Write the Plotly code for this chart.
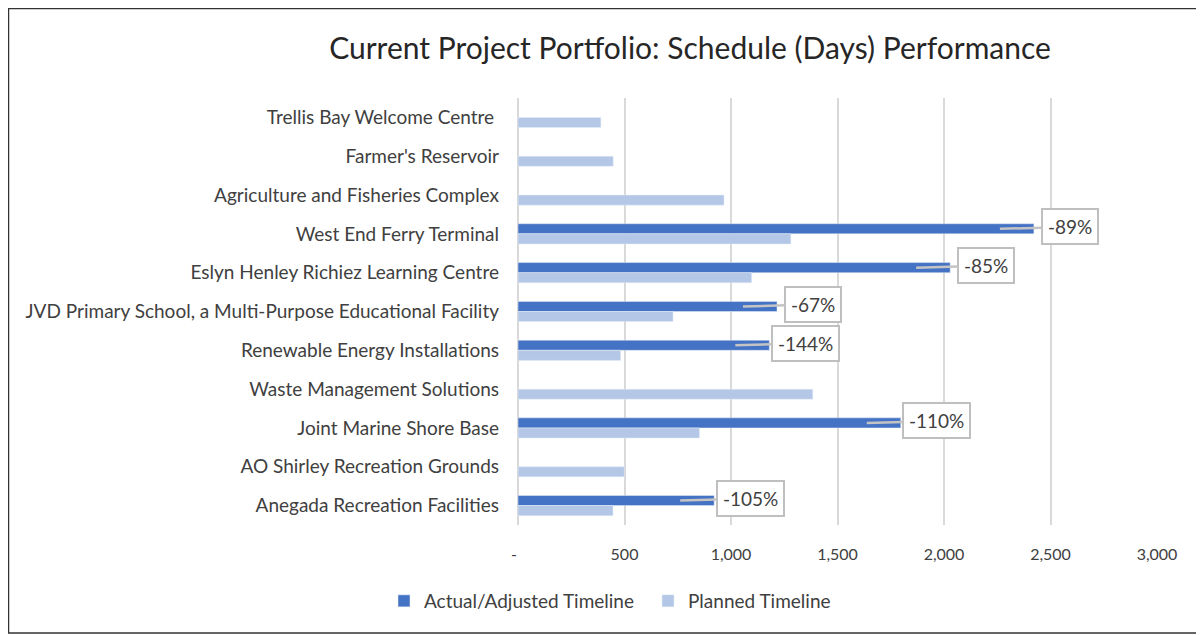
import plotly.graph_objects as go

categories = [
    "Trellis Bay Welcome Centre ",
    "Farmer's Reservoir",
    "Agriculture and Fisheries Complex",
    "West End Ferry Terminal",
    "Eslyn Henley Richiez Learning Centre",
    "JVD Primary School, a Multi-Purpose Educational Facility",
    "Renewable Energy Installations",
    "Waste Management Solutions",
    "Joint Marine Shore Base",
    "AO Shirley Recreation Grounds",
    "Anegada Recreation Facilities",
]
actual = [None, None, None, 2422, 2029, 1216, 1180, None, 1797, None, 921]
planned = [389, 447, 967, 1281, 1097, 728, 482, 1384, 852, 499, 446]
variance_labels = [None, None, None, "-89%", "-85%", "-67%", "-144%", None, "-110%", None, "-105%"]
tick_vals = [0, 500, 1000, 1500, 2000, 2500, 3000]
tick_text = ["-\u00a0\u00a0", "500", "1,000", "1,500", "2,000", "2,500", "3,000"]

FONT = "Lato"
TXT = "#404040"

fig = go.Figure()
fig.add_trace(go.Bar(y=categories, x=actual, orientation="h", name="Actual/Adjusted Timeline",
                     marker=dict(color="#4472C4"), legend="legend"))
fig.add_trace(go.Bar(y=categories, x=planned, orientation="h", name="Planned Timeline",
                     marker=dict(color="#B4C7E7"), legend="legend2"))

for cat, val, lab in zip(categories, actual, variance_labels):
    if lab is None:
        continue
    fig.add_annotation(x=val, y=cat, xref="x", yref="y", text=lab,
                       showarrow=True, arrowhead=0, arrowwidth=2.5, arrowcolor="#c4c4c4",
                       ax=70, ay=-2, xshift=-34, yshift=5,
                       bgcolor="white", bordercolor="#bfbfbf", borderwidth=2, borderpad=5,
                       font=dict(family=FONT, size=19, color=TXT))

# page body has an 8px margin; figure sized to fill the rest of the window
W, H = 1196, 627
L, R, T, B = 510, 47, 90, 110
pw, ph = W - L - R, H - T - B
fig.add_shape(type="rect", xref="paper", yref="paper",
              x0=(0.5 - L) / pw, x1=(1194 - L) / pw,
              y0=(H - B - 625) / ph, y1=(H - B - 0.5) / ph,
              line=dict(color="#333333", width=1.5), fillcolor="rgba(0,0,0,0)", layer="below")

legend_common = dict(orientation="h", xref="container", yref="container", xanchor="left",
                     yanchor="middle", y=1 - 593 / H,
                     font=dict(family=FONT, size=19, color=TXT), itemwidth=30,
                     bgcolor="rgba(0,0,0,0)")

fig.update_layout(
    width=W, height=H,
    margin=dict(l=L, r=R, t=T, b=B, autoexpand=False),
    paper_bgcolor="white", plot_bgcolor="white",
    barmode="group", bargap=0.48, bargroupgap=0,
    title=dict(text="Current Project Portfolio: Schedule (Days) Performance",
               x=682 / W, xanchor="center", xref="container",
               y=1 - 40 / H, yanchor="middle",
               font=dict(family=FONT, size=30, color="#262626")),
    font=dict(family=FONT, color=TXT),
    xaxis=dict(range=[0, 3000], tickvals=tick_vals, ticktext=tick_text,
               showgrid=True, gridcolor="#d9d9d9", gridwidth=2,
               zeroline=True, zerolinecolor="#d9d9d9", zerolinewidth=2,
               showline=False, ticks="", ticklabelstandoff=18, automargin=False,
               tickfont=dict(family=FONT, size=16, color=TXT)),
    yaxis=dict(categoryorder="array", categoryarray=categories,
               range=[len(categories) - 0.5, -0.5], autorange=False,
               showgrid=False, zeroline=False, showline=False, ticks="",
               ticklabelstandoff=18, automargin=False,
               tickfont=dict(family=FONT, size=19, color=TXT)),
    legend=dict(x=376 / W, **legend_common),
    legend2=dict(x=640 / W, **legend_common),
    showlegend=True,
)

fig.write_html("out.html")
